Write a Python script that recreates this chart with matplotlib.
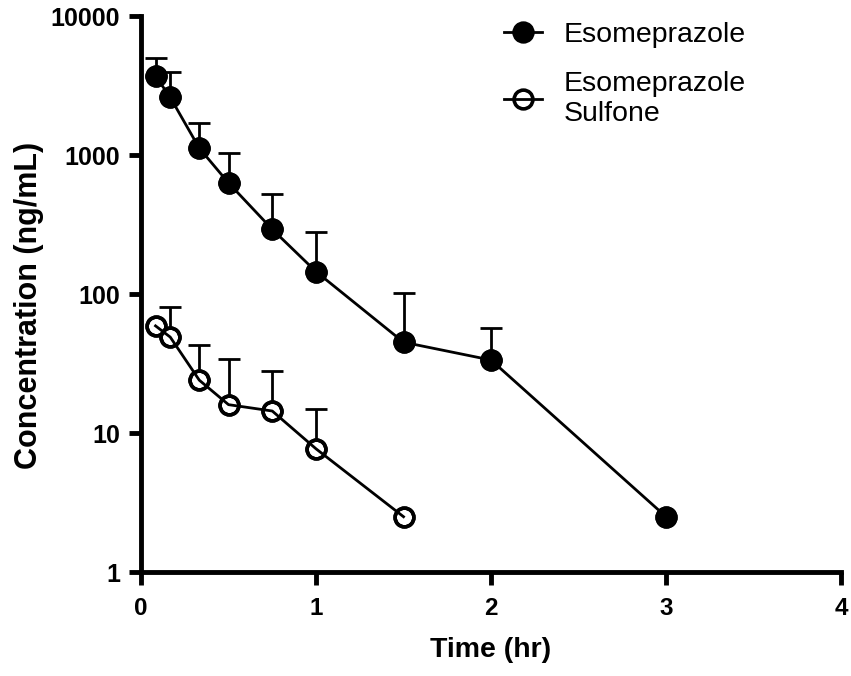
import numpy as np
import matplotlib
matplotlib.use('Agg')
import matplotlib.pyplot as plt
from matplotlib.lines import Line2D

# data
time_eso = [0.083, 0.167, 0.333, 0.5, 0.75, 1.0, 1.5, 2.0, 3.0]
conc_eso = [3700, 2600, 1120, 630, 292, 145, 45, 33.5, 2.5]
sd_eso = [1300, 1350, 570, 400, 235, 135, 57, 23, np.nan]

time_sul = [0.083, 0.167, 0.333, 0.5, 0.75, 1.0, 1.5]
conc_sul = [59, 49, 24, 16, 14.4, 7.7, 2.5]
sd_sul = [np.nan, 32, 19, 18, 13.5, 7.3, np.nan]

xticks = [0, 1, 2, 3, 4]
yticks = [1, 10, 100, 1000, 10000]

plt.rcParams['font.family'] = ['Liberation Sans', 'DejaVu Sans']

fig = plt.figure(figsize=(8.51, 6.76), dpi=100)
ax = fig.add_axes([0.1657, 0.1538, 0.8226, 0.8225])

lw = 2.0
ms = 13.5
mew = 2.6


def series(x, y, err, filled, z):
    x = np.array(x)
    y = np.array(y)
    err = np.array(err)
    ok = ~np.isnan(err)
    ax.errorbar(x[ok], y[ok], yerr=[np.zeros(ok.sum()), err[ok]], fmt='none',
                ecolor='black', elinewidth=lw, capsize=8, capthick=lw, zorder=z)
    ax.plot(x, y, 'o', ms=ms, mfc='black' if filled else 'white', mec='black',
            mew=mew, zorder=z + 1)
    ax.plot(x, y, '-', color='black', lw=lw, zorder=z + 2)
    ax.plot(x, y, 'o', ms=ms, mfc='black' if filled else 'none', mec='black',
            mew=mew, zorder=z + 3)


series(time_sul, conc_sul, sd_sul, False, 2)
series(time_eso, conc_eso, sd_eso, True, 6)

ax.set_yscale('log')
ax.set_xlim(0, 4)
ax.set_ylim(1, 10000)
ax.set_xticks(xticks)
ax.set_xticklabels([str(t) for t in xticks], fontweight='bold', fontsize=17.5)
ax.set_yticks(yticks)
ax.set_yticklabels([str(t) for t in yticks], fontweight='bold', fontsize=18)
ax.yaxis.set_minor_locator(matplotlib.ticker.NullLocator())

for s in ['top', 'right']:
    ax.spines[s].set_visible(False)
for s in ['left', 'bottom']:
    ax.spines[s].set_linewidth(3.5)
ax.tick_params(width=3.5, length=9, pad=6, color='black')
ax.tick_params(axis='x', pad=9)

ax.set_xlabel('Time (hr)', fontweight='bold', fontsize=20.5, labelpad=12)
ax.set_ylabel('Concentration (ng/mL)', fontweight='bold', fontsize=22, labelpad=8)
ax.yaxis.set_label_coords(-0.138, 0.48)

handles = [
    Line2D([], [], color='black', lw=lw, marker='o', ms=ms, mfc='black', mew=mew),
    Line2D([], [], color='black', lw=lw, marker='o', ms=ms, mfc='none', mew=mew),
]
ax.legend(handles, ['Esomeprazole', 'Esomeprazole\nSulfone'], loc='upper left',
          bbox_to_anchor=(0.482, 1.035), frameon=False, fontsize=20.5,
          handlelength=1.35, handletextpad=0.75, labelspacing=0.8)

fig.savefig('out.png', dpi=100)
